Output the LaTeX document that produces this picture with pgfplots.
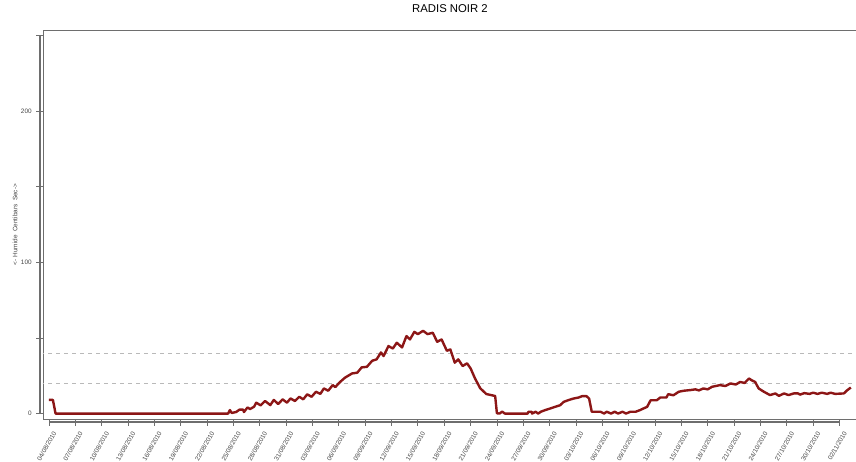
\documentclass[border=0pt]{standalone}
\usepackage{fontspec}
\setmainfont{Liberation Sans}
\usepackage{pgfplots}
\pgfplotsset{compat=1.18}
\definecolor{radis}{RGB}{140,22,22}
\definecolor{axisgray}{RGB}{110,110,110}
\definecolor{labgray}{RGB}{70,70,70}

\begin{document}
\begin{tikzpicture}
\begin{axis}[
    scale only axis,
    width=610.5pt, height=291.75pt,
    xmin=-0.68, xmax=92.0,
    ymin=-3.6, ymax=253.5,
    axis line style={axisgray, line width=0.7pt},
    tick align=outside,
    xtick pos=bottom, ytick pos=left,
    major tick length=5pt,
    tick style={axisgray, line width=0.6pt},
    xtick={0,3,...,90},
    xticklabels={04/08/2010,07/08/2010,10/08/2010,13/08/2010,16/08/2010,19/08/2010,22/08/2010,25/08/2010,28/08/2010,31/08/2010,03/09/2010,06/09/2010,09/09/2010,12/09/2010,15/09/2010,18/09/2010,21/09/2010,24/09/2010,27/09/2010,30/09/2010,03/10/2010,06/10/2010,09/10/2010,12/10/2010,15/10/2010,18/10/2010,21/10/2010,24/10/2010,27/10/2010,30/10/2010,02/11/2010},
    xticklabel style={font=\fontsize{4.8}{5}\selectfont, text=labgray, xshift=6pt, yshift=-2pt, rotate=60, anchor=east},
    ytick={0,50,...,250},
    yticklabels={0,,100,,200,},
    yticklabel style={font=\fontsize{4.8}{5}\selectfont, text=labgray},
    /pgf/number format/assume math mode=true,
    ylabel={<- Humide\ \ Centibars\ \ Sec->},
    ylabel style={at={(axis description cs:-0.0344,0.5)}, anchor=center, font=\fontsize{4.8}{5}\selectfont, text=labgray},
    title={RADIS NOIR 2},
    title style={at={(axis description cs:0.5,1)}, anchor=center, yshift=9.75pt, font=\fontsize{8.5}{9}\selectfont},
    clip=true,
]
\addplot[gray!55, dashed, line width=0.4pt] coordinates {(-1,20) (93,20)};
\addplot[gray!55, dashed, line width=0.4pt] coordinates {(-1,40) (93,40)};
\addplot[radis, line width=1.8pt, line join=round] coordinates {
(0,9) (0.45,9) (0.75,0) (20.4,0) (20.6,2.3) (20.8,0.4) (21.3,1) (21.7,2.6) (22.1,2.6) (22.2,1)
(22.6,4) (22.9,3) (23.35,4.5) (23.6,7.2) (24.1,5.4) (24.6,8.3) (25.2,5.6) (25.6,9) (26.1,6.3)
(26.6,9.4) (27.1,7.2) (27.5,10) (28.0,8.3) (28.5,11.1) (28.95,9.4) (29.4,12.7) (29.9,11.1)
(30.4,14.4) (30.9,13) (31.3,16.6) (31.8,15.1) (32.3,18.8) (32.6,17.5) (33.15,20.9) (33.7,23.7)
(34.5,26.5) (35.1,27) (35.6,30.5) (36.2,30.9) (36.8,34.9) (37.3,35.8) (37.8,40.4) (38.1,38)
(38.65,44.6) (39.15,43) (39.6,46.8) (40.2,43.7) (40.7,51.2) (41.1,49) (41.6,54) (42,52.5)
(42.6,54.7) (43.1,52.5) (43.7,53.4) (44.2,47.4) (44.7,49) (45.3,41.5) (45.7,42.4) (46.2,33.6)
(46.6,35.8) (47.1,31.4) (47.6,33.2) (48.0,29.9) (48.5,23.3) (49.1,16.7) (49.8,12.9) (50.8,11.6)
(51.0,0.2) (51.3,0) (51.6,1.3) (51.9,0) (54.5,0) (54.6,1.2) (54.95,1.2) (55.0,0) (55.4,1.2)
(55.7,0) (56.0,1.2) (56.5,2.3) (57.1,3.4) (57.6,4.4) (58.2,5.5) (58.6,7.7) (59.1,8.8) (59.7,9.9)
(60.3,10.6) (60.7,11.5) (61.2,11.5) (61.5,9.9) (61.8,1.2) (62.8,1.2) (63.2,0) (63.5,1.2) (64.0,0)
(64.4,1.2) (64.8,0) (65.3,1.2) (65.7,0) (66.2,1.2) (66.8,1.2) (67.3,2.3) (67.7,3.4) (68.1,4.4)
(68.5,8.8) (69.2,8.8) (69.6,10.6) (70.3,10.6) (70.5,12.8) (71.1,12.1) (71.7,14.4) (72.3,15.1)
(73.0,15.5) (73.6,16) (74.0,15.3) (74.5,16.6) (75.0,16) (75.5,17.7) (76.4,18.8) (77.0,18.2)
(77.6,19.9) (78.2,19.2) (78.7,20.9) (79.2,20.2) (79.7,23.2) (80.0,22) (80.4,20.9) (80.8,16.6)
(81.4,14.4) (82.1,12.2) (82.7,13.3) (83.1,11.7) (83.7,13.3) (84.2,12.2) (84.8,13.3) (85.3,13.3)
(85.5,12.5) (86.0,13.5) (86.6,13) (87.0,13.8) (87.5,13) (88.0,13.8) (88.6,13) (89.0,13.8)
(89.5,13) (90.5,13.3) (90.9,15.5) (91.3,17.2)
};
\coordinate (y0) at (axis cs:-0.68,0);
\coordinate (y250) at (axis cs:-0.68,250);
\coordinate (x0) at (axis cs:0,-3.6);
\coordinate (x90) at (axis cs:90,-3.6);
\end{axis}
\draw[axisgray, line width=0.8pt] ([xshift=-2.25pt]y0) -- ([xshift=-2.25pt]y250);
\draw[axisgray, line width=0.8pt] ([yshift=-2.25pt]x0) -- ([yshift=-2.25pt]x90);
\pgfresetboundingbox
\path[use as bounding box] ([shift={(-32.25pt,-31.5pt)}]current axis.south west) rectangle ([shift={(-0.75pt,22.5pt)}]current axis.north east);
\end{tikzpicture}
\end{document}
